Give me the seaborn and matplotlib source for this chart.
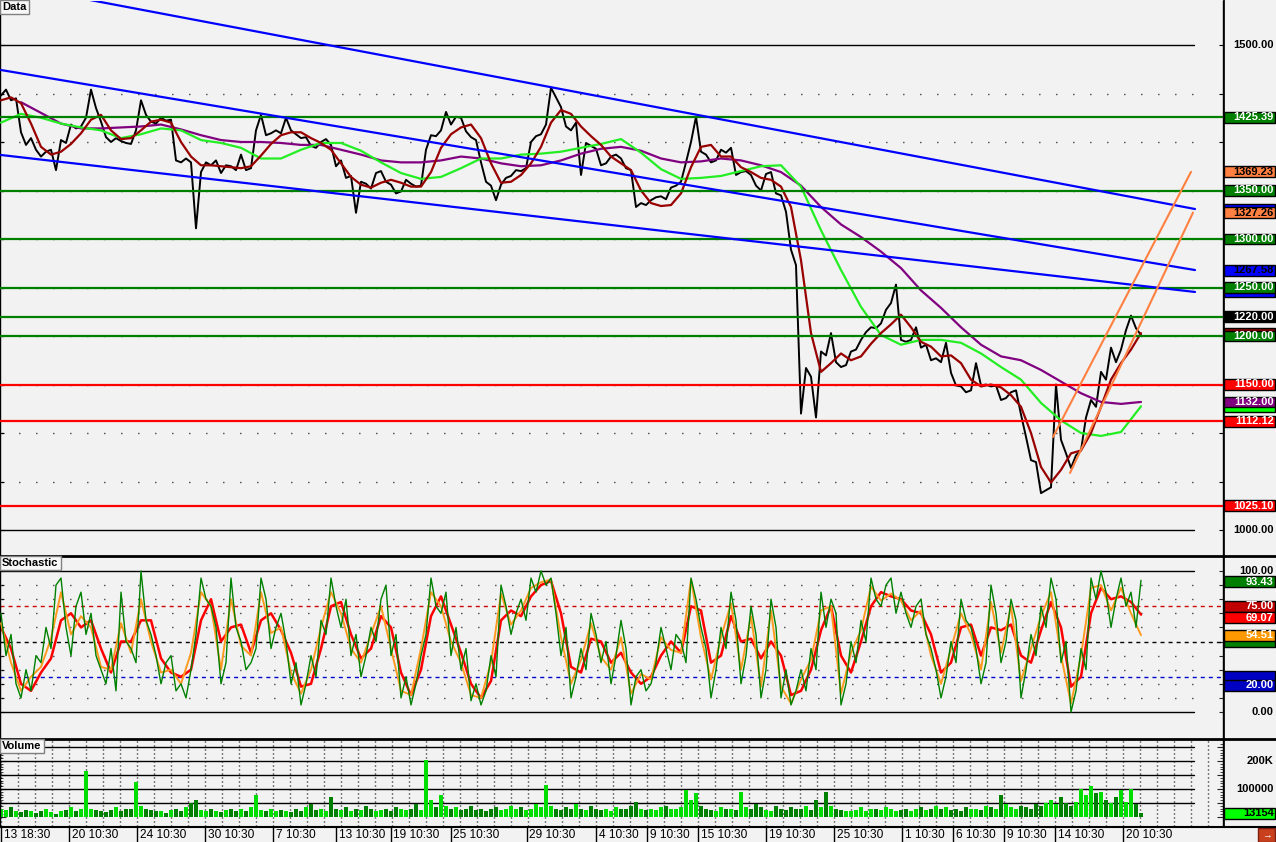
import numpy as np
import pandas as pd
import matplotlib
matplotlib.use("Agg")
import matplotlib.pyplot as plt
import matplotlib.transforms as mtransforms
from matplotlib.patches import Rectangle
from matplotlib.lines import Line2D
import seaborn as sns

# ------------------------------------------------------------------ data
# close price, one value per bar
close = [
    1448, 1454, 1443, 1445, 1410, 1397, 1404, 1392, 1385, 1390,
    1392, 1371, 1402, 1399, 1418, 1414, 1416, 1425, 1454, 1435,
    1421, 1405, 1400, 1404, 1401, 1399, 1398, 1412, 1443, 1428,
    1421, 1419, 1425, 1422, 1423, 1381, 1379, 1383, 1379, 1311,
    1369, 1379, 1376, 1381, 1368, 1376, 1375, 1371, 1387, 1371,
    1373, 1412, 1428, 1407, 1409, 1412, 1409, 1425, 1412, 1408,
    1404, 1405, 1396, 1394, 1400, 1403, 1397, 1375, 1381, 1363,
    1365, 1327, 1359, 1357, 1352, 1368, 1370, 1359, 1356, 1347,
    1349, 1361, 1357, 1354, 1355, 1392, 1407, 1406, 1412, 1431,
    1418, 1426, 1425, 1411, 1405, 1402, 1379, 1359, 1355, 1340,
    1356, 1363, 1365, 1371, 1370, 1373, 1400, 1406, 1408, 1418,
    1456, 1446, 1436, 1416, 1412, 1420, 1366, 1399, 1396, 1393,
    1376, 1378, 1385, 1387, 1383, 1373, 1371, 1333, 1337, 1335,
    1340, 1343, 1344, 1341, 1353, 1355, 1359, 1379, 1400, 1426,
    1390, 1387, 1379, 1381, 1392, 1389, 1394, 1366, 1369, 1370,
    1366, 1355, 1350, 1367, 1369, 1347, 1345, 1328, 1289, 1273,
    1120, 1167, 1158, 1116, 1184, 1180, 1203, 1173, 1168, 1170,
    1184, 1186, 1196, 1204, 1209, 1208, 1213, 1227, 1234, 1253,
    1196, 1194, 1196, 1209, 1188, 1191, 1175, 1177, 1173, 1193,
    1162, 1149, 1148, 1142, 1144, 1172, 1149, 1150, 1148, 1149,
    1134, 1136, 1142, 1144, 1119, 1096, 1072, 1070, 1038, 1041,
    1044, 1150, 1093, 1079, 1064, 1077, 1082, 1116, 1134, 1127,
    1163, 1155, 1188, 1173, 1186, 1206, 1221, 1208, 1201,
]
# fast moving average (dark red), one value every 2 bars
ma_fast = [
    1443, 1446, 1440, 1419, 1395, 1387, 1390, 1398, 1409, 1423,
    1428, 1412, 1403, 1404, 1412, 1421, 1423, 1420, 1400, 1385,
    1376, 1376, 1375, 1374, 1373, 1375, 1386, 1398, 1407, 1410,
    1410, 1404, 1399, 1392, 1378, 1364, 1356, 1353, 1358, 1361,
    1358, 1354, 1354, 1369, 1394, 1408, 1415, 1418, 1404, 1378,
    1358, 1359, 1366, 1378, 1395, 1420, 1433, 1429, 1416, 1406,
    1397, 1385, 1378, 1371, 1350, 1337, 1334, 1335, 1347, 1374,
    1395, 1397, 1385, 1385, 1374, 1369, 1363, 1361, 1354, 1333,
    1278, 1203, 1163, 1172, 1182, 1175, 1179, 1192, 1203, 1212,
    1222, 1209, 1194, 1189, 1179, 1180, 1172, 1155, 1148, 1150,
    1147, 1139, 1127, 1100, 1065, 1049, 1062, 1079, 1082, 1100,
    1127, 1155, 1172, 1186, 1203,
]
# medium moving average (lime), one value every 4 bars
ma_mid = [
    1420, 1429, 1425, 1419, 1415, 1412, 1404, 1408, 1414, 1412,
    1402, 1399, 1394, 1383, 1383, 1392, 1399, 1399, 1391, 1379,
    1368, 1362, 1364, 1373, 1383, 1383, 1387, 1388, 1390, 1394,
    1398, 1403, 1389, 1372, 1362, 1363, 1365, 1370, 1375, 1376,
    1354, 1309, 1268, 1230, 1201, 1191, 1196, 1196, 1193, 1182,
    1168, 1155, 1131, 1113, 1100, 1097, 1101, 1127.5,
]
# slow moving average (purple), one value every 4 bars from bar 4
ma_slow = [
    1441, 1430, 1419, 1414, 1414, 1415, 1416, 1418, 1413, 1407,
    1402, 1400, 1400, 1399, 1397, 1397, 1392, 1387, 1381, 1379,
    1379, 1381, 1385, 1383, 1378, 1375, 1376, 1381, 1388, 1393,
    1395, 1391, 1383, 1379, 1380, 1383, 1381, 1376, 1369, 1355,
    1333, 1315, 1302, 1287, 1270, 1247, 1229, 1209, 1191, 1179,
    1175, 1165, 1153, 1141, 1132, 1130, 1132,
]
# stochastic %K (green), one per bar
stoch_k = [
    70, 40, 55, 20, 10, 30, 15, 40, 35, 60,
    45, 90, 95, 60, 40, 75, 85, 55, 70, 40,
    30, 20, 45, 15, 85, 50, 45, 35, 100, 65,
    55, 40, 20, 35, 40, 15, 20, 10, 30, 55,
    95, 80, 75, 60, 20, 35, 95, 60, 50, 30,
    35, 45, 95, 80, 45, 60, 70, 50, 20, 35,
    5, 20, 40, 25, 65, 55, 95, 75, 60, 80,
    40, 55, 25, 40, 60, 50, 80, 90, 40, 55,
    10, 25, 5, 20, 40, 55, 95, 75, 70, 85,
    40, 60, 30, 45, 8, 20, 5, 15, 40, 25,
    90, 75, 55, 70, 80, 65, 95, 85, 100, 90,
    95, 70, 40, 60, 10, 25, 45, 30, 70, 55,
    35, 50, 20, 40, 65, 45, 5, 25, 30, 15,
    20, 35, 60, 45, 30, 55, 50, 35, 95, 80,
    60, 45, 10, 30, 60, 45, 85, 65, 20, 40,
    75, 55, 10, 30, 80, 60, 10, 30, 5, 15,
    30, 15, 45, 30, 85, 60, 80, 70, 5, 20,
    50, 35, 65, 50, 95, 80, 75, 90, 95, 70,
    85, 70, 60, 75, 80, 55, 45, 30, 10, 25,
    50, 35, 80, 65, 60, 45, 20, 35, 90, 70,
    35, 50, 80, 65, 10, 30, 55, 40, 75, 60,
    95, 80, 35, 50, 0, 15, 45, 30, 95, 80,
    100, 85, 60, 80, 95, 75, 85, 60, 93.43,
]
# stochastic %D (red) and signal (orange), one value every 2 bars
stoch_d = [
    60, 45, 20, 15, 28, 38, 65, 70, 60, 65,
    45, 28, 50, 50, 65, 65, 38, 28, 25, 30,
    65, 80, 50, 60, 62, 42, 65, 70, 58, 42,
    18, 20, 45, 75, 78, 55, 38, 45, 68, 60,
    28, 12, 30, 68, 82, 62, 42, 20, 10, 22,
    65, 72, 68, 82, 90, 93, 70, 32, 28, 52,
    50, 35, 42, 28, 20, 25, 40, 50, 42, 75,
    72, 35, 40, 68, 50, 52, 38, 50, 40, 12,
    15, 30, 58, 75, 40, 28, 50, 75, 85, 82,
    80, 72, 70, 55, 28, 35, 60, 62, 40, 60,
    58, 62, 40, 35, 58, 78, 60, 18, 25, 70,
    88, 80, 82, 78, 69.07,
]
stoch_sig = [
    63, 35, 15, 25, 32, 52, 85, 55, 68, 60,
    32, 30, 63, 42, 80, 50, 28, 30, 20, 42,
    85, 75, 30, 80, 47, 40, 85, 56, 60, 28,
    13, 30, 60, 85, 70, 45, 35, 55, 75, 45,
    15, 12, 45, 85, 75, 50, 35, 12, 10, 35,
    84, 62, 72, 88, 92, 94, 53, 20, 37, 63,
    39, 30, 53, 13, 27, 23, 53, 44, 42, 94,
    53, 23, 53, 77, 30, 68, 18, 72, 18, 6,
    23, 37, 72, 75, 13, 42, 58, 89, 79, 84,
    79, 65, 72, 40, 20, 45, 70, 55, 30, 78,
    42, 75, 22, 45, 68, 85, 40, 6, 40, 88,
    90, 72, 88, 70, 54.51,
]
# volume in thousands, one per bar
volume_k = [
    30, 25, 35, 20, 18, 25, 22, 15, 20, 28,
    18, 12, 20, 25, 35, 22, 28, 165, 30, 25,
    20, 18, 25, 35, 22, 30, 28, 126, 40, 30,
    25, 20, 22, 15, 25, 30, 20, 35, 50, 61,
    25, 20, 30, 22, 18, 25, 30, 22, 28, 20,
    35, 79, 25, 20, 30, 22, 25, 20, 18, 30,
    22, 35, 45, 25, 30, 20, 70, 28, 25, 35,
    22, 30, 25, 40, 28, 20, 25, 30, 22, 35,
    28, 25, 30, 45, 25, 205, 60, 35, 80, 40,
    28, 35, 25, 30, 40, 25, 30, 22, 28, 35,
    25, 30, 40, 28, 35, 25, 30, 45, 35, 115,
    40, 30, 25, 35, 30, 45, 28, 25, 40, 30,
    25, 30, 20, 35, 28, 30, 40, 55, 30, 25,
    30, 25, 35, 40, 30, 28, 35, 95, 60, 85,
    40, 30, 25, 20, 35, 28, 30, 25, 90, 35,
    30, 45, 35, 25, 20, 40, 30, 25, 35, 28,
    30, 40, 25, 60, 35, 90, 40, 30, 25, 20,
    20, 25, 35, 22, 30, 28, 25, 35, 30, 22,
    25, 30, 22, 28, 35, 25, 30, 40, 28, 35,
    25, 30, 22, 35, 28, 30, 25, 40, 35, 28,
    80, 45, 35, 30, 40, 35, 30, 45, 40, 50,
    60, 45, 70, 50, 40, 55, 100, 80, 110, 85,
    90, 60, 50, 70, 95, 55, 100, 45, 13.154,
]
# horizontal levels
green_levels = [1425.39, 1350.00, 1300.00, 1250.00, 1220.00, 1200.00]
red_levels = [1150.00, 1112.12, 1025.10]
# trend lines: (start bar, start price, end bar, end price)
blue_lines = [(17.8, 1546.4, 238.8, 1330.9),
              (0.0, 1474.2, 238.8, 1268.0),
              (0.0, 1386.6, 238.8, 1245.4)]
orange_lines = [(210.4, 1095.9, 238.0, 1369.23),
                (213.8, 1058.8, 238.4, 1327.26)]
# x-axis labels and the grid column where each one sits
time_labels = ["13 18:30", "20 10:30", "24 10:30", "30 10:30", "7 10:30",
               "13 10:30", "19 10:30", "25 10:30", "29 10:30", "4 10:30",
               "9 10:30", "15 10:30", "19 10:30", "25 10:30", "1 10:30",
               "6 10:30", "9 10:30", "14 10:30", "20 10:30"]
time_cols = [0, 4, 8, 12, 16, 19.7, 22.9, 26.45, 30.9, 35, 38, 41, 45, 49,
             53, 56, 59, 62, 66]

# right-axis value boxes: (value, fill, text colour, show text); drawn in order
price_tags = [
    (1500.00, None, "black", True), (1000.00, None, "black", True),
    (1330.90, "#0000ff", "black", False), (1245.40, "#0000ff", "black", False),
    (1203.10, "#8b0000", "white", False), (1127.50, "#00ff00", "white", False),
    (1425.39, "#008000", "white", True), (1369.23, "#ff8040", "black", True),
    (1350.00, "#008000", "white", True), (1327.26, "#ff8040", "black", True),
    (1300.00, "#008000", "white", True), (1267.58, "#0000ff", "black", True),
    (1250.00, "#008000", "white", True), (1220.00, "#000000", "white", True),
    (1200.00, "#008000", "white", True), (1150.00, "#ff0000", "white", True),
    (1132.00, "#800080", "white", True), (1112.12, "#ff0000", "white", True),
    (1025.10, "#ff0000", "white", True),
]
stoch_tags = [
    (100.00, None, "black", True), (0.00, None, "black", True),
    (50.25, "#008000", "white", False), (25.00, "#0000c0", "white", False),
    (93.43, "#008000", "white", True), (75.00, "#c00000", "white", True),
    (69.07, "#ff0000", "white", True), (54.51, "#ff9900", "white", True),
    (20.00, "#0000c0", "white", True),
]
vol_tags = [(200000, None, "black", "200K"), (100000, None, "black", "100000"),
            (13154, "#00ff00", "black", "13154")]

# ------------------------------------------------------------------ style
sns.set_style("white")
plt.rcParams["font.family"] = ["Liberation Sans", "DejaVu Sans"]
BG = "#f2f2f2"
W, H = 1276, 842
PR = 1223           # right edge of plot area (px)
GRID_END = 1194     # end of solid grid lines (px)
TAG_FS = 8.0
# tags pushed apart on the axis so that they do not cover each other (px shift)
stoch_tag_shift = {93.43: 1.5, 69.07: 3.0, 20.00: 1.5}

fig = plt.figure(figsize=(W / 100, H / 100), dpi=100, facecolor=BG)


def fbox(x0, y0, x1, y1):
    return [x0 / W, 1 - y1 / H, (x1 - x0) / W, (y1 - y0) / H]


ax_p = fig.add_axes(fbox(0, 1, PR, 555))
ax_s = fig.add_axes(fbox(0, 556, PR, 738))
ax_v = fig.add_axes(fbox(0, 739, PR, 826))
r_p = fig.add_axes(fbox(PR + 1, 1, W, 555))
r_s = fig.add_axes(fbox(PR + 1, 556, W, 738))
r_v = fig.add_axes(fbox(PR + 1, 739, W, 826))

# pixel scales of the reference
P_PX = 0.97     # px per price unit (1500 at y=45, 1000 at y=530)
S_PX = 1.41     # px per stochastic unit (100 at y=571, 0 at y=712)
V_PX = 0.28e-3  # px per volume unit (0 at y=817)
p_lim = (1000 - (555 - 530) / P_PX, 1500 + (45 - 1) / P_PX)
s_lim = (-(738 - 712) / S_PX, 100 + (571 - 556) / S_PX)
v_lim = (-(826 - 817) / V_PX, (817 - 739) / V_PX)
x_lim = (-0.2, (PR - 1) / 5)

for a, yl in ((ax_p, p_lim), (ax_s, s_lim), (ax_v, v_lim)):
    a.set_facecolor(BG)
    a.set_xlim(*x_lim)
    a.set_ylim(*yl)
    for sp in a.spines.values():
        sp.set_color("black")
        sp.set_linewidth(1)
    a.spines["top"].set_visible(False)
    a.spines["bottom"].set_visible(False)
    a.set_xticks([])
for a, yl in ((r_p, p_lim), (r_s, s_lim), (r_v, v_lim)):
    a.set_facecolor(BG)
    a.set_xlim(0, 1)
    a.set_ylim(*yl)
    a.axis("off")

bars = np.arange(len(close))
grid_step = 17.0 / 5          # vertical grid every 17 px
grid_x = 0.06 + grid_step * np.arange(0, 72)
dot_style = (10.9, (0.72, 11.52))

# ---------------------------------------------------------------- price panel
for lv in np.arange(1050, 1451, 50):
    ax_p.axhline(lv, 0, GRID_END / PR, color="black", lw=1, ls=dot_style, zorder=1)
for lv in (1000, 1500):
    ax_p.axhline(lv, 0, GRID_END / PR, color="black", lw=1, zorder=1)

df_p = pd.DataFrame({"bar": bars, "close": close})
sns.lineplot(data=df_p, x="bar", y="close", ax=ax_p, color="black", lw=1.4,
             estimator=None, zorder=2)
sns.lineplot(x=np.arange(len(ma_slow)) * 4 + 4, y=ma_slow, ax=ax_p,
             color="#800080", lw=1.6, estimator=None, zorder=3)
sns.lineplot(x=np.arange(len(ma_mid)) * 4, y=ma_mid, ax=ax_p,
             color="#22ee22", lw=1.6, estimator=None, zorder=3)
sns.lineplot(x=np.arange(len(ma_fast)) * 2, y=ma_fast, ax=ax_p,
             color="#990000", lw=1.6, estimator=None, zorder=3)

for lv in green_levels:
    ax_p.axhline(lv, color="#008000", lw=1.6, zorder=4)
for lv in red_levels:
    ax_p.axhline(lv, color="#ff0000", lw=1.6, zorder=4)
for x0, y0, x1, y1 in blue_lines:
    sns.lineplot(x=[x0, x1], y=[y0, y1], ax=ax_p, color="#0000ff", lw=1.6,
                 estimator=None, zorder=5)
for x0, y0, x1, y1 in orange_lines:
    sns.lineplot(x=[x0, x1], y=[y0, y1], ax=ax_p, color="#ff8040", lw=1.5,
                 estimator=None, zorder=5)
ax_p.set_yticks(np.arange(1000, 1501, 50))
ax_p.tick_params(axis="y", left=True, right=True, direction="in", length=3,
                 labelleft=False, labelright=False, color="black")
ax_p.set_xlabel("")
ax_p.set_ylabel("")

# ---------------------------------------------------------------- stochastic
for lv in (10, 20, 30, 40, 60, 70, 80, 90):
    ax_s.axhline(lv, 0, GRID_END / PR, color="black", lw=1, ls=dot_style, zorder=1)
for lv in (0, 100):
    ax_s.axhline(lv, 0, GRID_END / PR, color="black", lw=1, zorder=1)
ax_s.axhline(75, color="#cc0000", lw=1, ls=(0, (2.9, 2.9)), zorder=1)
ax_s.axhline(50, color="black", lw=1, ls=(0, (2.9, 2.9)), zorder=1)
ax_s.axhline(25, color="#0000cc", lw=1, ls=(0, (2.9, 2.9)), zorder=1)
half = np.arange(len(stoch_d)) * 2
sns.lineplot(x=half, y=stoch_d, ax=ax_s, color="#ff0000", lw=1.8,
             estimator=None, zorder=2)
sns.lineplot(x=half, y=stoch_sig, ax=ax_s, color="#ff9a20", lw=1.4,
             estimator=None, zorder=3)
sns.lineplot(x=np.arange(len(stoch_k)), y=stoch_k, ax=ax_s, color="#008000",
             lw=1.0, estimator=None, zorder=4)
ax_s.set_yticks(np.arange(0, 101, 10))
ax_s.tick_params(axis="y", left=True, right=True, direction="in", length=3,
                 labelleft=False, labelright=False)
ax_s.set_xlabel("")
ax_s.set_ylabel("")

# ---------------------------------------------------------------- volume
for gx in grid_x:
    ax_v.axvline(gx, color="black", lw=1, ls=(0, (0.72, 2.16)), zorder=1)
for lv in (50e3, 100e3, 150e3, 200e3, 250e3):
    ax_v.axhline(lv, 0, GRID_END / PR, color="black", lw=1, zorder=1)
vol = np.array(volume_k) * 1000
cl = np.array(close, dtype=float)
up = np.r_[True, cl[1:] >= cl[:-1]]
ax_v.bar(np.arange(len(vol)), vol, width=0.9, linewidth=0,
         color=np.where(up, "#00dd00", "#008000"), zorder=2)
ax_v.set_yticks(np.arange(0, 260e3, 50e3))
ax_v.set_yticks(np.arange(0, 270e3, 10e3), minor=True)
ax_v.tick_params(axis="y", which="major", left=True, right=True, direction="in",
                 length=4, labelleft=False, labelright=False)
ax_v.tick_params(axis="y", which="minor", left=True, right=True, direction="in",
                 length=2)

# x axis labels with separators
tick_x = [0.06 + grid_step * c for c in time_cols]
ax_v.set_xticks(tick_x)
ax_v.set_xticklabels([])
ax_v.tick_params(axis="x", bottom=True, direction="out", length=11.5, width=1,
                 color="black")
trans = mtransforms.blended_transform_factory(ax_v.transData, fig.transFigure)
for tx, lab in zip(tick_x, time_labels):
    ax_v.text(tx + 0.5, 1 - 835 / H, lab, transform=trans, ha="left",
              va="center", fontsize=8.6, color="black", clip_on=False)


# ---------------------------------------------------------------- right tags
def tag(ax, value, fill, tcolor, text, px_per_unit, z, show=True, shift=0.0):
    half_h = 5.4 / px_per_unit
    pos = value - shift / px_per_unit
    if fill is not None:
        ax.add_patch(Rectangle((0.0, pos - half_h), 0.985, 2 * half_h,
                               facecolor=fill, edgecolor="black", lw=1,
                               zorder=z))
    if show:
        ax.text(0.955, pos, text, ha="right", va="center", fontsize=TAG_FS,
                fontweight="bold", color=tcolor, zorder=z + 0.5)


for i, (v, f, c, s) in enumerate(price_tags):
    tag(r_p, v, f, c, f"{v:.2f}", P_PX, 3 + i, s)
for i, (v, f, c, s) in enumerate(stoch_tags):
    tag(r_s, v, f, c, f"{v:.2f}", S_PX, 3 + i, s, stoch_tag_shift.get(v, 0.0))
for i, (v, f, c, t) in enumerate(vol_tags):
    tag(r_v, v, f, c, t, V_PX, 3 + i)


# ---------------------------------------------------------------- frames
def hline_px(y, lw):
    fig.add_artist(Line2D([0, 1], [1 - y / H, 1 - y / H], color="black", lw=lw,
                          transform=fig.transFigure))


hline_px(555.5, 2.0)
hline_px(738.5, 2.0)
hline_px(826.5, 1.5)
fig.add_artist(Line2D([(PR + 0.5) / W] * 2, [1 - 826.5 / H, 1], color="black",
                      lw=1.2, transform=fig.transFigure))

for txt, y in (("Data", 7), ("Stochastic", 563), ("Volume", 746)):
    fig.text(2 / W, 1 - y / H, txt, ha="left", va="center", fontsize=8,
             fontweight="bold", color="black",
             bbox=dict(boxstyle="square,pad=0.22", fc="#f8f8f8", ec="#808080",
                       lw=1))

fig.add_artist(Rectangle((1258 / W, 1 - 842 / H), 17 / W, 14 / H,
                         facecolor="#c8401e", edgecolor="#802010", lw=1,
                         transform=fig.transFigure))
fig.text(1266.5 / W, 1 - 835 / H, "→", ha="center", va="center", fontsize=7,
         color="white", fontweight="bold")

fig.savefig("out.png", dpi=100, facecolor=BG)
